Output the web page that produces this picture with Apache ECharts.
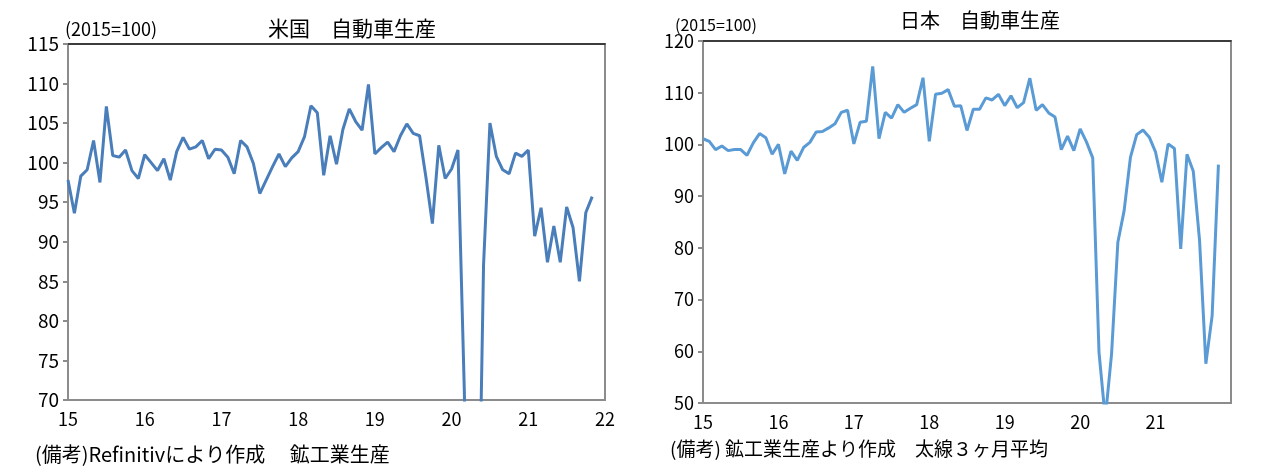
<!doctype html>
<html lang="ja">
<head>
	<meta charset="UTF-8">
	<title>自動車生産</title>
	<script src="https://cdn.jsdelivr.net/npm/echarts@6/dist/echarts.min.js"></script>
	<style>
		html, body { margin: 0; padding: 0; background: #fff; }
		#main { width: 1264px; height: 474px; }
	</style>
</head>
<body>
	<div id="main"></div>
	<script type="text/javascript">
		// 月次データ 2015年1月〜2021年11月 (2015=100)
		var usProduction = [
			97.8, 93.6, 98.3, 99.1, 102.8, 97.5, 107.1, 100.9, 100.7, 101.6, 99.0, 98.0,
			101.0, 100.0, 99.0, 100.5, 97.8, 101.4, 103.2, 101.7, 102.0, 102.8, 100.5, 101.7,
			101.6, 100.7, 98.6, 102.8, 102.0, 99.9, 96.1, 97.8, 99.5, 101.1, 99.5, 100.6,
			101.4, 103.3, 107.2, 106.3, 98.4, 103.4, 99.8, 104.2, 106.8, 105.2, 104.1, 109.9,
			101.1, 101.9, 102.6, 101.4, 103.4, 104.9, 103.7, 103.4, 98.1, 92.3, 102.2, 98.0,
			99.2, 101.6, 71.0, 20.0, 40.0, 87.0, 105.0, 100.8, 99.1, 98.6, 101.2, 100.8,
			101.6, 90.7, 94.3, 87.4, 92.0, 87.4, 94.4, 91.8, 85.0, 93.7, 95.7
		];
		var jpProduction = [
			101.1, 100.6, 99.0, 99.7, 98.8, 99.0, 99.0, 97.9, 100.3, 102.1, 101.3, 98.1,
			100.0, 94.3, 98.7, 96.9, 99.4, 100.4, 102.4, 102.5, 103.2, 104.0, 106.2, 106.6,
			100.1, 104.3, 104.5, 115.1, 101.1, 106.2, 105.1, 107.7, 106.2, 107.0, 107.7, 112.9,
			100.6, 109.7, 109.9, 110.6, 107.4, 107.5, 102.7, 106.8, 106.8, 109.0, 108.6, 109.7,
			107.5, 109.4, 107.1, 108.1, 112.8, 106.6, 107.7, 106.1, 105.3, 99.0, 101.6, 98.8,
			103.0, 100.5, 97.4, 59.8, 47.0, 59.5, 81.1, 87.2, 97.5, 101.9, 102.8, 101.4,
			98.5, 92.7, 100.1, 99.2, 79.8, 98.1, 94.8, 81.4, 57.6, 66.9, 96.1
		];
		var startYear = 15;   // 2015年
		var yearTicks = [15, 16, 17, 18, 19, 20, 21, 22];

		function toPoints(values) {
			return values.map((v, i) => [startYear + i / 12, v]);
		}

		var numFont = "'Noto Sans CJK JP', sans-serif";
		var jpFont = "'Noto Sans CJK JP', sans-serif";
		var axisGray = '#8c8c8c';

		function xAxisFor(gridIndex, hideLast) {
			return {
				type: 'value', gridIndex: gridIndex,
				min: yearTicks[0], max: yearTicks[yearTicks.length - 1], interval: 1,
				splitLine: { show: false },
				axisTick: { show: false },
				axisLine: { lineStyle: { color: axisGray, width: 2 } },
				axisLabel: {
					color: '#000', fontSize: 18, fontFamily: numFont, margin: 10,
					showMaxLabel: !hideLast
				}
			};
		}

		// 上辺の黒い枠線
		function topLineFor(gridIndex) {
			return {
				type: 'value', gridIndex: gridIndex, position: 'top',
				min: yearTicks[0], max: yearTicks[yearTicks.length - 1],
				splitLine: { show: false }, axisTick: { show: false }, axisLabel: { show: false },
				axisLine: { show: true, lineStyle: { color: '#222', width: 1.5 } }
			};
		}

		function yAxisFor(gridIndex, min, max, step, size) {
			return {
				type: 'value', gridIndex: gridIndex, min: min, max: max, interval: step,
				splitLine: { show: false },
				axisTick: { show: true, length: 5, lineStyle: { color: axisGray, width: 2 } },
				axisLine: { show: true, lineStyle: { color: axisGray, width: 2 } },
				axisLabel: { color: '#000', fontSize: size, fontFamily: numFont, margin: 9 }
			};
		}

		var myChart = echarts.init(document.getElementById('main'));
		option = {
			animation: false,
			backgroundColor: '#fff',
			title: [
				{ text: '米国　自動車生産', left: 347, top: 13, textAlign: 'center',
					textStyle: { fontSize: 21, fontWeight: 'normal', fontFamily: jpFont, color: '#000' } },
				{ text: '(2015=100)', left: 60, top: 15,
					textStyle: { fontSize: 18, fontWeight: 'normal', fontFamily: numFont, color: '#000' } },
				{ text: '日本　自動車生産', left: 975, top: 5, textAlign: 'center',
					textStyle: { fontSize: 20, fontWeight: 'normal', fontFamily: jpFont, color: '#000' } },
				{ text: '(2015=100)', left: 670, top: 12,
					textStyle: { fontSize: 16, fontWeight: 'normal', fontFamily: numFont, color: '#000' } },
				{ text: '(備考)Refinitivにより作成　 鉱工業生産', left: 30, top: 439,
					textStyle: { fontSize: 20, fontWeight: 'normal', fontFamily: jpFont, color: '#000' } },
				{ text: '(備考) 鉱工業生産より作成　太線３ヶ月平均', left: 665, top: 434,
					textStyle: { fontSize: 19, fontWeight: 'normal', fontFamily: jpFont, color: '#000' } }
			],
			grid: [
				{ left: 68, right: 659, top: 44, bottom: 74, show: true, borderColor: axisGray, borderWidth: 2 },
				{ left: 703, right: 33, top: 41, bottom: 71, show: true, borderColor: axisGray, borderWidth: 2 }
			],
			xAxis: [xAxisFor(0, false), xAxisFor(1, true), topLineFor(0), topLineFor(1)],
			yAxis: [yAxisFor(0, 70, 115, 5, 19), yAxisFor(1, 50, 120, 10, 18)],
			series: [
				{
					type: 'line', xAxisIndex: 0, yAxisIndex: 0, data: toPoints(usProduction),
					showSymbol: false, clip: true,
					lineStyle: { color: '#4a7ebb', width: 3 }
				},
				{
					type: 'line', xAxisIndex: 1, yAxisIndex: 1, data: toPoints(jpProduction),
					showSymbol: false, clip: true,
					lineStyle: { color: '#5b9bd5', width: 3 }
				}
			]
		};
		myChart.setOption(option);
	</script>
</body>
</html>
